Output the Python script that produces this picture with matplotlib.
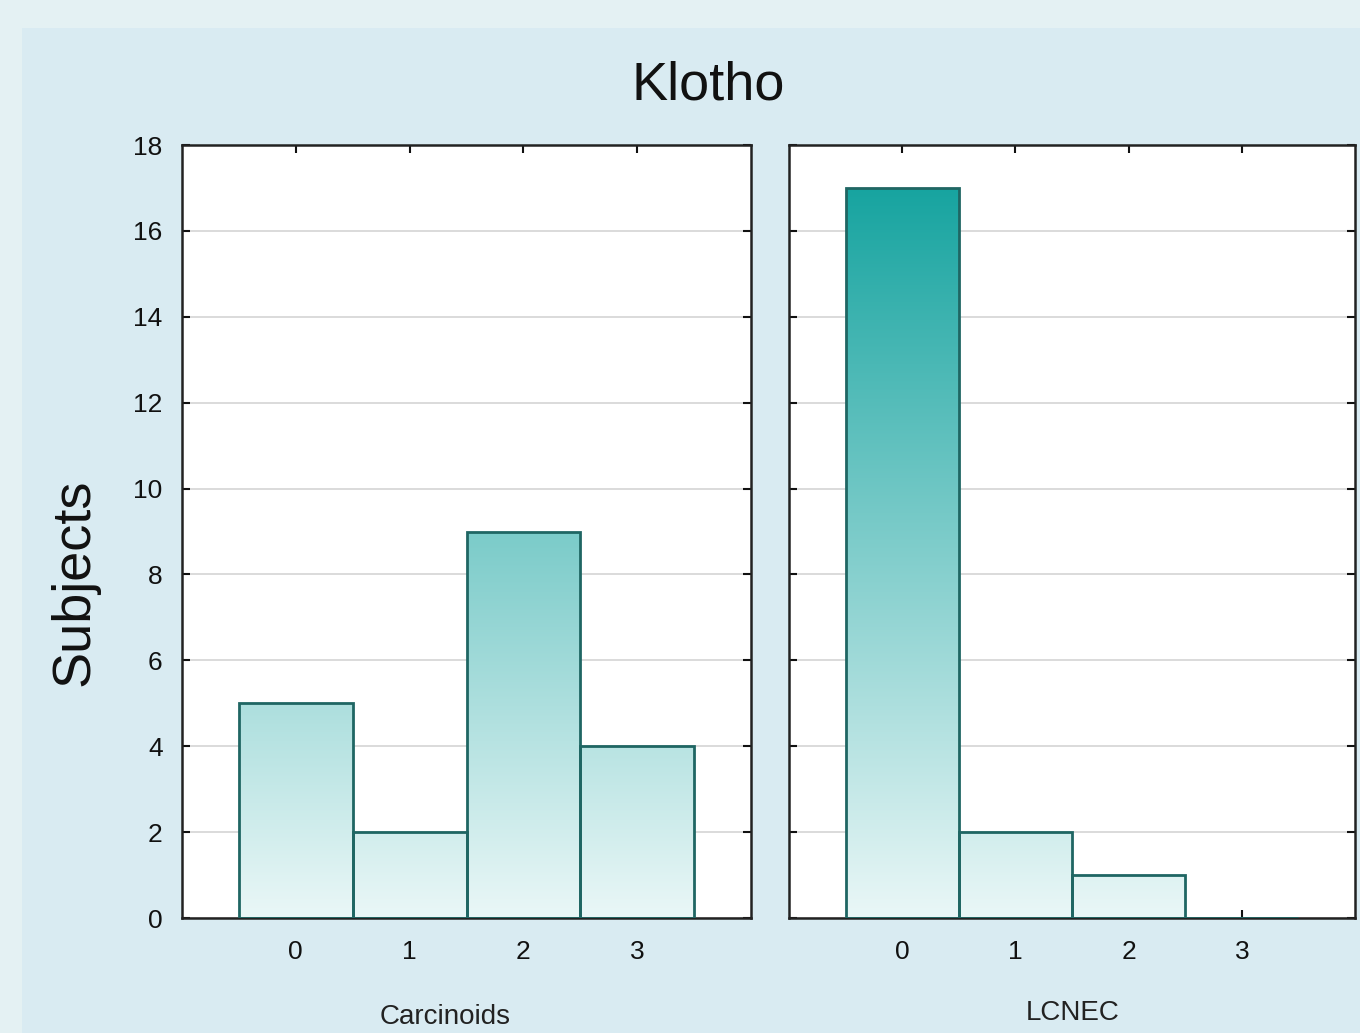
import matplotlib.pyplot as plt
import numpy as np
from matplotlib.colors import LinearSegmentedColormap
from matplotlib.patches import Rectangle

# Data
grades = [0, 1, 2, 3]
carcinoids = [5, 2, 9, 4]
lcnec = [17, 2, 1, 0]
panel_labels = ["Carcinoids", "LCNEC"]
yticks = list(range(0, 20, 2))

plt.rcParams['font.family'] = ['Liberation Sans', 'DejaVu Sans']

W, H = 1360, 1033
fig = plt.figure(figsize=(W / 100, H / 100), dpi=100)
fig.patch.set_facecolor('#e4f1f3')
# inner panel
fig.patches.append(Rectangle((22 / W, 0), 1, 1 - 28 / H, transform=fig.transFigure,
                             facecolor='#d9ebf2', edgecolor='none', zorder=-10))

cmap = LinearSegmentedColormap.from_list('teal', ['#eaf7f7', '#17a4a0'])
grad = np.linspace(0, 1, 256).reshape(-1, 1)

def px_axes(x0, x1, y0, y1):
    return fig.add_axes([x0 / W, 1 - y1 / H, (x1 - x0) / W, (y1 - y0) / H])

ax1 = px_axes(182, 751, 145, 918)
ax2 = px_axes(789, 1355, 145, 918)

for ax, vals in [(ax1, carcinoids), (ax2, lcnec)]:
    ax.set_facecolor('white')
    ax.set_xlim(-1, 4)
    ax.set_ylim(0, 18)
    ax.set_yticks(yticks)
    ax.set_xticks(grades)
    ax.yaxis.grid(True, color='#d4d4d4', linewidth=1.2, zorder=0)
    ax.set_axisbelow(True)
    bars = ax.bar(grades, vals, width=1.0, color='none', edgecolor='#1f6663',
                  linewidth=2, zorder=3)
    # vertical gradient fill, clipped to each bar
    for b in bars:
        if b.get_height() <= 0:
            continue
        im = ax.imshow(grad, cmap=cmap, origin='lower', aspect='auto',
                       extent=[-1, 4, 0, 17], vmin=0, vmax=1, zorder=2,
                       interpolation='bilinear')
        im.set_clip_path(b)
    ax.set_xlim(-1, 4)
    ax.set_ylim(0, 18)
    ax.tick_params(direction='in', length=6, width=1.5, top=True, right=True,
                   labelsize=19, colors='#111111', pad=14)
    ax.tick_params(axis='x', pad=16)
    for s in ax.spines.values():
        s.set_color('#222222')
        s.set_linewidth(1.8)

ax2.tick_params(labelleft=False)

fig.text(708 / W, 1 - 85 / H, "Klotho", ha='center', va='center', fontsize=39, color='#111111')
fig.text(75 / W, 1 - 582 / H, "Subjects", ha='center', va='center', rotation=90,
         fontsize=39, color='#111111')
fig.text(445 / W, 1 - 1017 / H, panel_labels[0], ha='center', va='center', fontsize=20, color='#222222')
fig.text(1073 / W, 1 - 1013 / H, panel_labels[1], ha='center', va='center', fontsize=20, color='#222222')

fig.savefig('out.png', dpi=100, facecolor=fig.get_facecolor())
